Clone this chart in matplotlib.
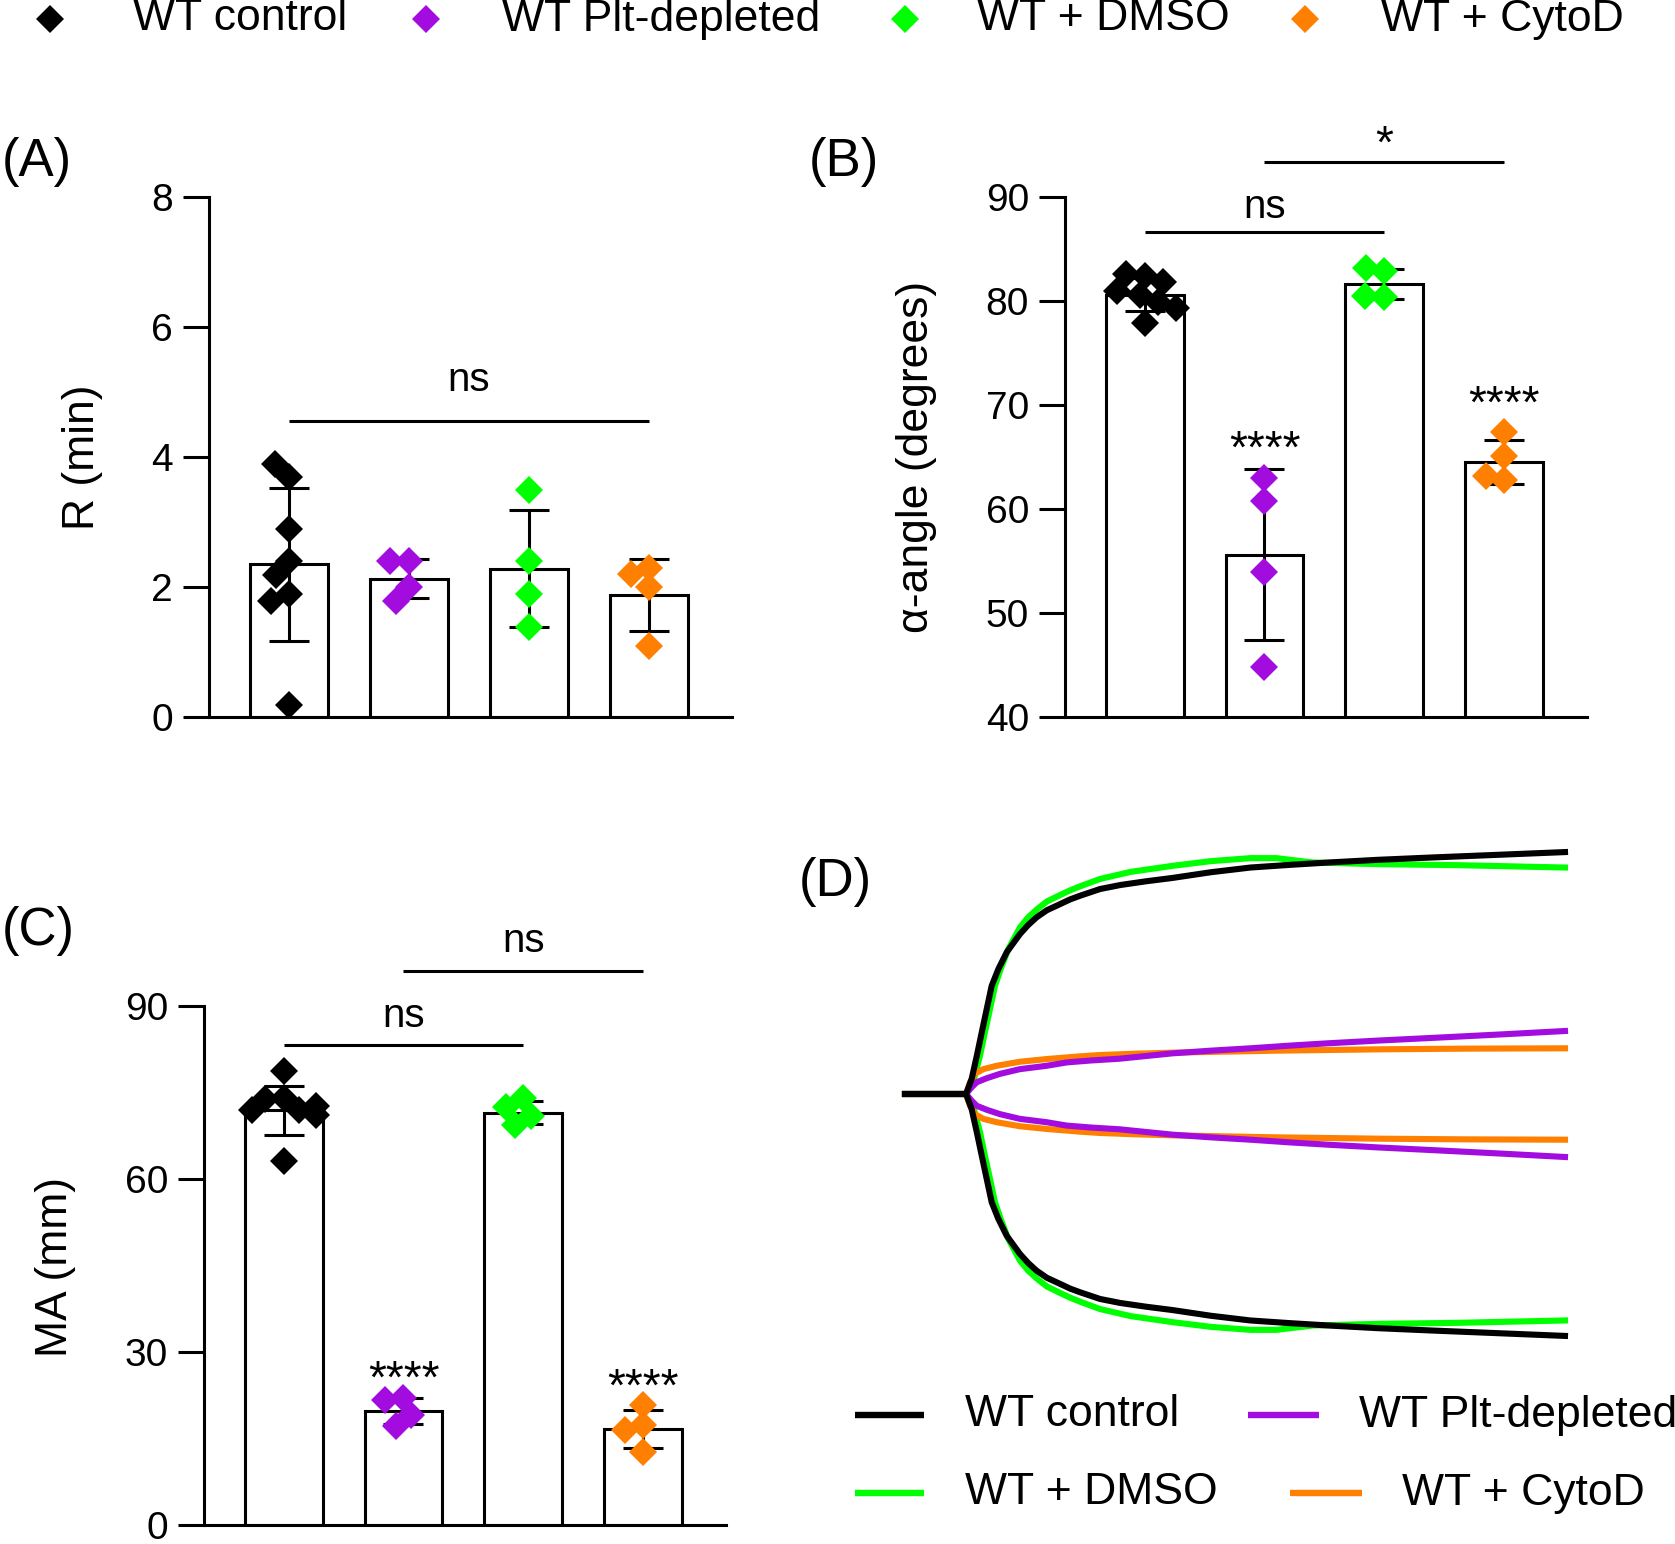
import numpy as np
import matplotlib
matplotlib.use("Agg")
import matplotlib.pyplot as plt
from matplotlib.lines import Line2D

plt.rcParams['font.family'] = ['Liberation Sans', 'DejaVu Sans']

# ---------------- data ----------------
groups = ["WT control", "WT Plt-depleted", "WT + DMSO", "WT + CytoD"]
colors = ["#000000", "#A30CDE", "#00FF00", "#FF7F00"]

# (A) R (min)
r_points = [
    [3.70, 3.90, 2.90, 2.40, 2.19, 1.90, 1.79, 0.18],
    [2.40, 2.40, 2.00, 1.79],
    [3.50, 2.40, 1.90, 1.39],
    [2.30, 2.20, 2.00, 1.09],
]
r_mean = [2.35, 2.13, 2.28, 1.88]
r_sd = [1.18, 0.30, 0.90, 0.55]

# (B) alpha-angle (degrees)
alpha_points = [
    [82.36, 82.58, 81.78, 80.97, 80.59, 79.95, 79.37, 77.93],
    [63.0, 60.8, 53.9, 44.85],
    [82.84, 83.13, 80.43, 80.49],
    [67.43, 65.08, 62.83, 63.22],
]
alpha_mean = [80.6, 55.6, 81.6, 64.5]
alpha_sd = [1.6, 8.2, 1.45, 2.1]

# (C) MA (mm)
ma_points = [
    [78.7, 74.0, 73.8, 72.0, 72.6, 71.9, 71.1, 63.2],
    [22.1, 21.6, 19.1, 17.1],
    [74.0, 72.5, 71.0, 69.4],
    [20.8, 17.4, 16.5, 12.6],
]
ma_mean = [71.9, 19.8, 71.5, 16.6]
ma_sd = [4.3, 2.3, 1.95, 3.3]

# significance annotations: (bar from, bar to, line height, label)
sig_A = [(0, 3, 4.56, "ns")]
sig_B = [(0, 2, 86.6, "ns"), (1, 3, 93.4, "*")]
sig_C = [(0, 2, 83.2, "ns"), (1, 3, 96.1, "ns")]
stars_B = [(1, 64.5, "****"), (3, 68.8, "****")]
stars_C = [(1, 22.9, "****"), (3, 21.5, "****")]

# (D) TEG tracings: time (min) and amplitude (mm)
black_t = [0, 5.55, 6.06, 6.53, 6.98, 7.43, 7.88, 8.49, 9.25, 10.45, 11.2, 11.97, 12.9, 14.09, 15.0,
           15.91, 17.73, 19.58, 21.9, 24.31, 27.8, 31.4, 35.0, 38.5, 43.0, 47.95, 54.0, 60]
black_amp = [0, 0, 4.5, 11.4, 18.4, 25.3, 32.2, 37.2, 42.2, 47.6, 50.3, 52.6, 54.7, 56.5, 57.9,
             59.0, 61.0, 62.2, 63.3, 64.3, 66.0, 67.4, 68.2, 68.9, 69.7, 70.4, 71.2, 72.0]
green_t = [0, 5.55, 6.27, 6.82, 7.27, 7.73, 8.18, 8.7, 9.4, 10.45, 11.2, 11.97, 12.9, 14.09, 15.0,
           15.91, 17.73, 20.5, 24.31, 27.8, 31.4, 33.76, 37.07, 43.22, 50.31, 60]
green_amp = [0, 0, 4.5, 11.4, 18.4, 25.3, 32.2, 37.2, 43.2, 49.6, 52.6, 54.9, 57.3, 59.2, 60.6,
             61.8, 64.0, 66.1, 67.9, 69.3, 70.2, 70.2, 68.9, 68.4, 68.1, 67.4]
purple_t = [0, 5.55, 6.06, 6.52, 7.43, 8.64, 10.45, 12.88, 14.7, 17.0, 19.49, 21.9, 24.31, 27.8,
            31.4, 35.0, 38.5, 43.0, 47.95, 54.0, 60]
purple_amp = [0, 0, 2.0, 3.5, 4.7, 6.0, 7.4, 8.4, 9.4, 10.0, 10.5, 11.3, 12.1, 12.9,
              13.6, 14.4, 15.1, 15.9, 16.7, 17.7, 18.75]
orange_t = [0, 5.55, 5.91, 6.36, 7.12, 8.34, 10.45, 12.88, 15.91, 17.73, 21.0, 24.31, 28.9,
            33.76, 38.5, 43.22, 51.0, 60]
orange_amp = [0, 0, 3.5, 6.0, 7.4, 8.4, 9.6, 10.4, 11.2, 11.6, 12.0, 12.3, 12.6,
              12.9, 13.1, 13.3, 13.5, 13.6]

# ---------------- figure ----------------
W, H = 1675, 1544
fig = plt.figure(figsize=(W / 100, H / 100), dpi=100)


def ax_rect(x0, x1, y_top, y_bot):
    return [x0 / W, 1 - y_bot / H, (x1 - x0) / W, (y_bot - y_top) / H]


LW = 2.2
TICK_FS = 28
LABEL_FS = 32
MS = 14


def swarm_offsets(ax, values, min_dist=19.0, max_off=32.0):
    """Simple beeswarm in pixel space, offsets clipped to the bar width."""
    p0 = ax.transData.transform((0, 0))
    p1 = ax.transData.transform((1, 1))
    sx = p1[0] - p0[0]
    sy = p1[1] - p0[1]
    placed = []
    offs = []
    for v in values:
        y = v * sy
        intervals = []
        for (px, py) in placed:
            dy = abs(y - py)
            if dy < min_dist:
                h = np.sqrt(min_dist ** 2 - dy ** 2)
                intervals.append((px - h, px + h))
        cands = [0.0] + [a for iv in intervals for a in iv]
        best = 0.0
        for c in sorted(cands, key=lambda c: (abs(c), c)):
            if all(not (lo + 1e-6 < c < hi - 1e-6) for lo, hi in intervals):
                best = c
                break
        best = float(np.clip(best, -max_off, max_off))
        placed.append((best, y))
        offs.append(best / sx)
    return offs


def bar_panel(rect, points, means, sds, ylim, yticks, ylabel, label_x, label_y):
    ax = fig.add_axes(rect)
    x = np.arange(len(means))
    ax.set_xlim(-0.664, 3.69)
    ax.set_ylim(*ylim)
    ax.bar(x, means, width=0.65, color="white", edgecolor="black",
           linewidth=LW, zorder=1)
    ax.errorbar(x, means, yerr=sds, fmt="none", ecolor="black",
                elinewidth=LW, capsize=14.4, capthick=LW, zorder=2)
    for i, vals in enumerate(points):
        offs = swarm_offsets(ax, vals)
        ax.plot(x[i] + np.array(offs), vals, ls="none", marker="D",
                ms=MS, color=colors[i], mec=colors[i], mew=0, zorder=3,
                clip_on=False)
    for s in ["top", "right"]:
        ax.spines[s].set_visible(False)
    for s in ["left", "bottom"]:
        ax.spines[s].set_linewidth(LW)
    ax.set_xticks([])
    ax.set_yticks(yticks)
    ax.tick_params(axis="y", length=19, width=LW, labelsize=TICK_FS, pad=7)
    ax.set_ylabel(ylabel, fontsize=LABEL_FS, va="center")
    ax.yaxis.set_label_coords(label_x, label_y)
    return ax


def add_sig(ax, sigs, text_gap):
    for a, b, y, txt in sigs:
        ax.plot([a, b], [y, y], color="black", lw=LW, clip_on=False,
                solid_capstyle="butt")
        fs = 29 if txt == "ns" else 33
        ax.text((a + b) / 2, y + text_gap, txt, ha="center", va="baseline",
                fontsize=fs, clip_on=False)


def add_stars(ax, stars):
    for i, y, txt in stars:
        ax.text(i, y, txt, ha="center", va="baseline", fontsize=33)


axA = bar_panel(ax_rect(209, 732, 197, 717), r_points, r_mean, r_sd,
                (0, 8), [0, 2, 4, 6, 8], "R (min)", -0.241, 0.5)
add_sig(axA, sig_A, 0.46)

axB = bar_panel(ax_rect(1065, 1587, 197, 717), alpha_points, alpha_mean,
                alpha_sd, (40, 90), [40, 50, 60, 70, 80, 90],
                "α-angle (degrees)", -0.2845, 0.5)
add_sig(axB, [sig_B[0]], 1.4)
add_sig(axB, [sig_B[1]], 0.4)
add_stars(axB, stars_B)

axC = bar_panel(ax_rect(204, 726, 1006, 1525), ma_points, ma_mean, ma_sd,
                (0, 90), [0, 30, 60, 90], "MA (mm)", -0.2845, 0.497)
add_sig(axC, sig_C, 3.2)
add_stars(axC, stars_C)

# (D) tracings
axD = fig.add_axes(ax_rect(905, 1565, 800, 1388))
axD.set_xlim(0, 60)
axD.set_ylim(-87.5, 87.5)
axD.axis("off")
curves = [
    (green_t, green_amp, colors[2]),
    (orange_t, orange_amp, colors[3]),
    (purple_t, purple_amp, colors[1]),
    (black_t, black_amp, colors[0]),
]
for t, amp, c in curves:
    a = np.array(amp)
    axD.plot(t, a, color=c, lw=4.4, solid_joinstyle="round", clip_on=False)
    axD.plot(t, -a, color=c, lw=4.4, solid_joinstyle="round", clip_on=False)

# panel labels
for txt, px, py in [("(A)", 2, 162), ("(B)", 809, 162), ("(C)", 2, 931), ("(D)", 799, 882)]:
    fig.text(px / W, 1 - py / H, txt, ha="left", va="center", fontsize=38)

# top legend (markers)
for (mx, tx), name, c in zip([(50, 133), (426, 502), (905, 977), (1305, 1381)],
                             groups, colors):
    fig.add_artist(Line2D([mx / W], [1 - 19 / H], marker="D", ms=MS, mew=0,
                          color=c, mec=c, ls="none",
                          transform=fig.transFigure))
    fig.text(tx / W, 1 - 19 / H, name, ha="left", va="center",
             fontsize=LABEL_FS)

# bottom legend (lines)
leg_rows = [
    (groups[0], colors[0], 855, 924, 965, 1415),
    (groups[1], colors[1], 1248, 1319, 1359, 1415),
    (groups[2], colors[2], 855, 924, 965, 1493),
    (groups[3], colors[3], 1290, 1362, 1402, 1493),
]
for name, c, x0, x1, tx, yy in leg_rows:
    fig.add_artist(Line2D([x0 / W, x1 / W], [1 - yy / H, 1 - yy / H],
                          color=c, lw=4.6, transform=fig.transFigure,
                          solid_capstyle="butt"))
    fig.text(tx / W, 1 - yy / H, name, ha="left", va="center",
             fontsize=LABEL_FS)

fig.savefig("out.png", dpi=100)
